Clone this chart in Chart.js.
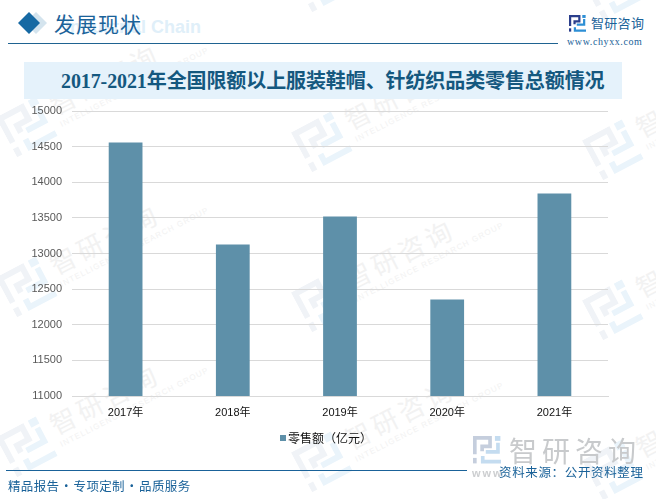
<!DOCTYPE html>
<html>
<head>
<meta charset="utf-8">
<script src="https://cdn.jsdelivr.net/npm/chart.js@4/dist/chart.umd.min.js"></script>
<style>
    html, body { margin: 0; padding: 0; background: #fff; }
    #page { position: relative; width: 656px; height: 499px; overflow: hidden; font-family: "Noto Sans CJK SC", sans-serif; }
    #page div, #page svg { position: absolute; }
    #chart_canvas { position: absolute; left: 0; top: 0; }
    .mark { white-space: nowrap; transform-origin: 0 0; transform: rotate(-27deg); color: #f2f2f2; font-size: 26px; letter-spacing: 4px; line-height: 1; }
    .mark small { display: block; font: 8px "Liberation Sans", sans-serif; letter-spacing: 1.1px; margin-top: 4px; }
    .mark-logo { transform: rotate(-28deg); }
</style>
</head>
<body>
<div id="page">
    <div id="marks"></div>
    <div style="right:455px;top:17px;font:bold 18px/20px 'Liberation Sans',sans-serif;color:#e0eff9;white-space:nowrap;">Industrial Chain</div>
    <svg style="left:14px;top:10px" width="36" height="26"><polygon points="22,2 33,13 22,24 11,13" fill="#d4e4ee"/><polygon points="15,2 26,13 15,24 4,13" fill="#1669a3"/></svg>
    <div style="left:54px;top:8px;font-size:21px;line-height:30px;color:#1a6299;letter-spacing:1px;">发展现状</div>
    <div style="left:8px;top:43px;width:550px;height:1px;background:#1f6391;"></div>
    <div id="head_logo" style="left:569px;top:15px"></div>
    <div style="left:591px;top:13px;font-size:13px;line-height:20px;color:#1a6299;letter-spacing:0.3px;">智研咨询</div>
    <div style="left:567px;top:36px;font:10px 'Liberation Serif',serif;color:#1a6299;letter-spacing:0.6px;white-space:nowrap;">www.chyxx.com</div>
    <div style="left:24px;top:62px;width:598px;height:37px;background:#e5f2fb;"></div>
    <div style="left:61px;top:66px;font:bold 20px 'Liberation Serif','Noto Sans CJK SC',serif;line-height:30px;color:#14587f;white-space:nowrap;letter-spacing:-0.1px;">2017-2021年全国限额以上服装鞋帽、针纺织品类零售总额情况</div>
    <canvas id="chart_canvas" width="656" height="499"></canvas>
    <div id="legend_box" style="left:280px;top:435px;width:6px;height:6px;"></div>
    <div id="legend_text" style="left:288px;top:429px;font-size:12px;line-height:18px;color:#111;white-space:nowrap;"></div>
    <div id="foot_logo" style="left:473px;top:436px"></div>
    <div style="left:509px;top:430px;font-size:28px;line-height:40px;color:#c8cacc;letter-spacing:5px;white-space:nowrap;">智研咨询</div>
    <div style="left:472px;top:467px;font:bold 11px 'Liberation Sans',sans-serif;color:#ccced0;letter-spacing:2px;white-space:nowrap;">www.</div>
    <div style="left:6px;top:470px;width:461px;height:1px;background:#1a6299;"></div>
    <div style="left:8px;top:477px;font-size:12.5px;line-height:18px;color:#1a6299;white-space:nowrap;letter-spacing:0.35px;word-spacing:-2.5px;">精品报告 · 专项定制 · 品质服务</div>
    <div style="left:499px;top:463px;font-size:12.5px;line-height:18px;color:#1a6299;white-space:nowrap;letter-spacing:0.65px;">资料来源：公开资料整理</div>
</div>
<script>
// 亿元
const years = ['2017年', '2018年', '2019年', '2020年', '2021年'];
const sales = [14558, 13126, 13519, 12354, 13842];
const seriesName = '零售额（亿元）';
const axisMin = 11000;
const axisMax = 15000;
const axisStep = 500;

const barColor = '#5e90a9';

// watermark tiles, the columns sit a bit lower going right
const markCols = [27, 322, 613];
const markColShift = [0, 15, 23];
const markRows = [-33, 127, 287, 447];

function logoSvg(size, dark, light) {
    return `<svg width="${size}" height="${size}" viewBox="0 0 46 46" style="position:static;display:block">
        <path d="M3 30V3H28V17H15V25" fill="none" stroke="${dark}" stroke-width="6"/>
        <rect x="0" y="36" width="6" height="9" fill="${dark}"/>
        <rect x="36" y="0" width="9" height="8" fill="${light}"/>
        <path d="M41 11V26H21M16 33V42H46" fill="none" stroke="${light}" stroke-width="6"/>
    </svg>`;
}

function drawMarks() {
    const holder = document.getElementById('marks');
    markCols.forEach((left, col) => {
        markRows.forEach(row => {
            const top = row + markColShift[col];
            const logo = document.createElement('div');
            logo.className = 'mark-logo';
            logo.style.left = (left - 23) + 'px';
            logo.style.top = (top - 23) + 'px';
            logo.innerHTML = logoSvg(46, '#f0f3f7', '#eaf4fb');
            holder.appendChild(logo);

            const text = document.createElement('div');
            text.className = 'mark';
            text.style.left = (left + 18) + 'px';
            text.style.top = (top - 33) + 'px';
            text.innerHTML = '智研咨询<small>INTELLIGENCE RESEARCH GROUP</small>';
            holder.appendChild(text);
        });
    });
}

drawMarks();
document.getElementById('head_logo').innerHTML = logoSvg(17, '#2b3f8c', '#2d8fd5');
document.getElementById('foot_logo').innerHTML = logoSvg(28, '#c5cedd', '#c4dcf0');
document.getElementById('legend_box').style.background = barColor;
document.getElementById('legend_text').textContent = seriesName;

const ctx = document.getElementById('chart_canvas').getContext('2d');
const chart = new Chart(ctx, {
    type: 'bar',
    data: {
        labels: years,
        datasets: [{
            label: seriesName,
            data: sales,
            backgroundColor: barColor,
            barPercentage: 0.315,
            categoryPercentage: 1
        }]
    },
    options: {
        responsive: false,
        animation: false,
        layout: { padding: { left: 0, right: 48, top: 111, bottom: 75 } },
        plugins: {
            title: { display: false },
            tooltip: { enabled: false },
            legend: { display: false }
        },
        scales: {
            x: {
                afterFit: scale => { scale.height = 28; },
                grid: { display: false },
                border: { color: '#d9d9d9', width: 1 },
                ticks: {
                    color: '#111',
                    maxRotation: 0,
                    padding: 2,
                    font: { size: 11, family: '"Liberation Sans", "Noto Sans CJK SC", sans-serif' }
                }
            },
            y: {
                min: axisMin,
                max: axisMax,
                afterFit: scale => { scale.width = 72; },
                ticks: {
                    stepSize: axisStep,
                    color: '#595959',
                    padding: 10,
                    callback: value => value,
                    font: { size: 11, family: '"Liberation Sans", sans-serif' }
                },
                border: { display: false },
                grid: { color: '#d9d9d9', tickLength: 0, lineWidth: 1 }
            }
        }
    }
});
</script>
</body>
</html>
